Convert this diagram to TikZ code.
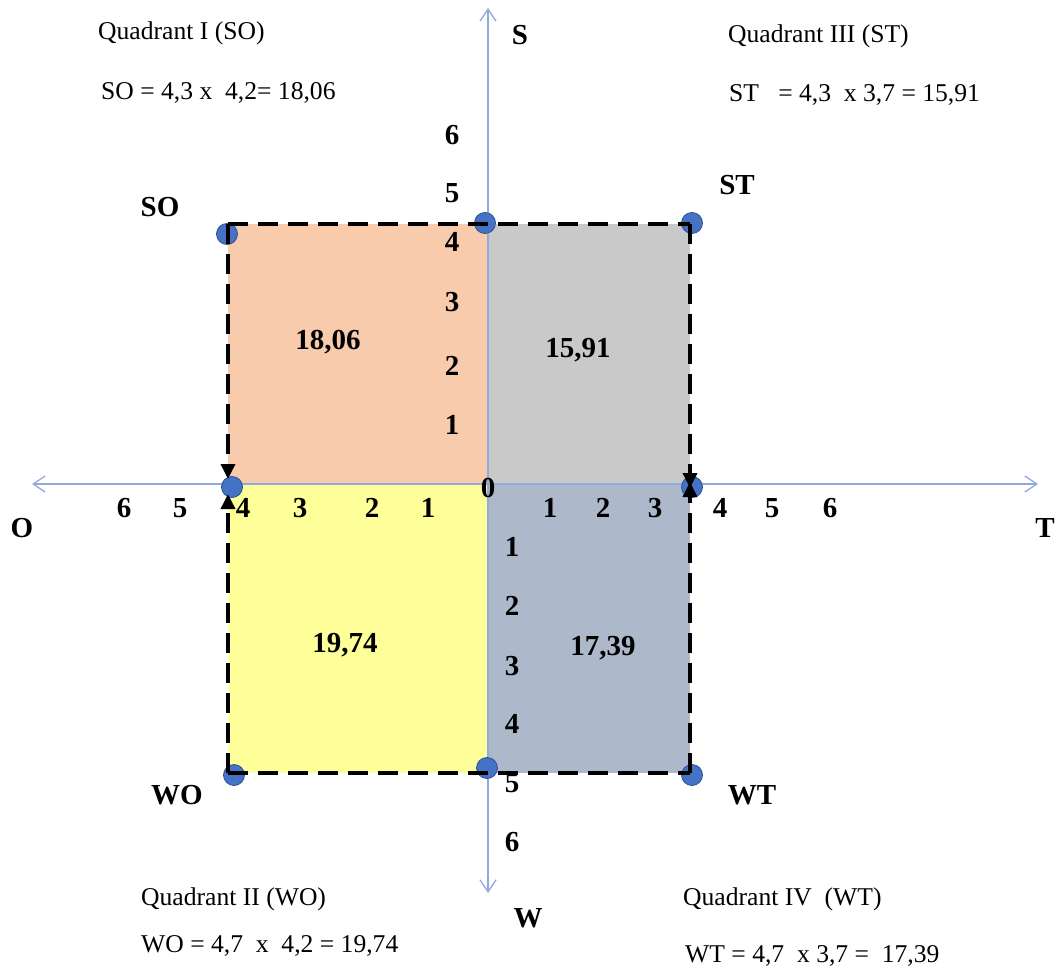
\documentclass[tikz,border=0pt]{standalone}
\usepackage{fontspec}
\setmainfont{Liberation Serif}
\usetikzlibrary{arrows.meta}
\definecolor{cSO}{HTML}{F8CBAD}
\definecolor{cST}{HTML}{C9C9C9}
\definecolor{cWO}{HTML}{FFFF99}
\definecolor{cWT}{HTML}{ADB9CA}
\definecolor{axisblue}{HTML}{8FAADC}
\definecolor{dotfill}{HTML}{4472C4}
\definecolor{dotline}{HTML}{2F528F}
\begin{document}
\begin{tikzpicture}[x=1pt,y=-1pt,
 qtext/.style={anchor=base west, font=\fontsize{25.6}{30}\selectfont, inner sep=0},
 lbl/.style={font=\bfseries\fontsize{29}{34}\selectfont, inner sep=0},
 dot/.style={circle, fill=dotfill, draw=dotline, line width=0.8pt, minimum size=21pt, inner sep=0},
 axis/.style={axisblue, line width=1.3pt, {Straight Barb[length=12pt,width=16pt]}-{Straight Barb[length=12pt,width=16pt]}},
 border/.style={black, line width=3.5pt, dash pattern=on 20pt off 10pt},
 barrow/.style={border, -{Triangle[length=15pt,width=14pt]}}
]
\useasboundingbox (0,0) rectangle (1059,973);
% quadrant fills
\fill[cSO] (228,224) rectangle (487,484);
\fill[cST] (487,224) rectangle (690,484);
\fill[cWO] (228,484) rectangle (487,773);
\fill[cWT] (487,484) rectangle (690,773);
% axes
\coordinate (xl) at (32,484);
\coordinate (xr) at (1038,484);
\coordinate (yt) at (488,8);
\coordinate (yb) at (488,893);
\draw[axis] (xl) -- (xr);
\draw[axis] (yt) -- (yb);
% dots
\node[dot] (dSO) at (227,234) {};
\node[dot] (dS) at (485,223) {};
\node[dot] (dST) at (692,223) {};
\node[dot] (dO) at (232,487) {};
\node[dot] (dT) at (692,487) {};
\node[dot] (dW) at (487,768) {};
\node[dot] (dWO) at (234,775) {};
\node[dot] (dWT) at (692,775) {};
% dashed border
\coordinate (cSO) at (228,224);
\coordinate (cST) at (690,224);
\coordinate (cWO) at (228,773);
\coordinate (cWT) at (690,773);
\coordinate (aOt) at (228,479);
\coordinate (aOb) at (228,494);
\coordinate (aTt) at (690,488);
\coordinate (aTb) at (690,482);
\draw[border] (cSO) -- (cST);
\draw[border] (cWO) -- (cWT);
\draw[barrow] (cSO) -- (aOt);
\draw[barrow] (cWO) -- (aOb);
\draw[barrow] (cST) -- (aTt);
\draw[barrow] (cWT) -- (aTb);
% axis numbers
\foreach \t/\y in {6/135,5/193,4/242,3/302,2/366,1/425}
  \node[lbl] (nu\t) at (452,\y) {\t};
\foreach \t/\y in {1/547,2/606,3/666,4/724,5/783,6/842}
  \node[lbl] (nd\t) at (512,\y) {\t};
\foreach \t/\x in {6/124,5/180,4/243,3/300,2/372,1/428}
  \node[lbl] (nl\t) at (\x,508) {\t};
\foreach \t/\x in {1/550,2/603,3/655,4/720,5/772,6/830}
  \node[lbl] (nr\t) at (\x,508) {\t};
\node[lbl] (zero) at (488,488) {0};
% axis letters
\node[lbl] (lS) at (520,35) {S};
\node[lbl] (lW) at (528,918) {W};
\node[lbl] (lO) at (22,528) {O};
\node[lbl] (lT) at (1045,528) {T};
% corner labels
\node[lbl] (tSO) at (160,207) {SO};
\node[lbl] (tST) at (737,185) {ST};
\node[lbl] (tWO) at (177,795) {WO};
\node[lbl] (tWT) at (752,795) {WT};
% values
\node[lbl] (vSO) at (328,342) {18,06};
\node[lbl] (vST) at (578,350) {15,91};
\node[lbl] (vWO) at (345,645) {19,74};
\node[lbl] (vWT) at (603,648) {17,39};
% quadrant texts
\node[qtext] (q1) at (98,40) {Quadrant I (SO)};
\node[qtext] (q1e) at (101,100) {SO = 4,3 x\ \ 4,2= 18,06};
\node[qtext] (q3) at (728,43) {Quadrant III (ST)};
\node[qtext] (q3e) at (729,102) {ST\ \ \ = 4,3\ \ x 3,7 = 15,91};
\node[qtext] (q2) at (141,905) {Quadrant II (WO)};
\node[qtext] (q2e) at (141,952) {WO = 4,7\ \ x\ \ 4,2 = 19,74};
\node[qtext] (q4) at (683,905) {Quadrant IV\ \ (WT)};
\node[qtext] (q4e) at (685,962) {WT = 4,7\ \ x 3,7 =\ \ 17,39};
\end{tikzpicture}
\end{document}
